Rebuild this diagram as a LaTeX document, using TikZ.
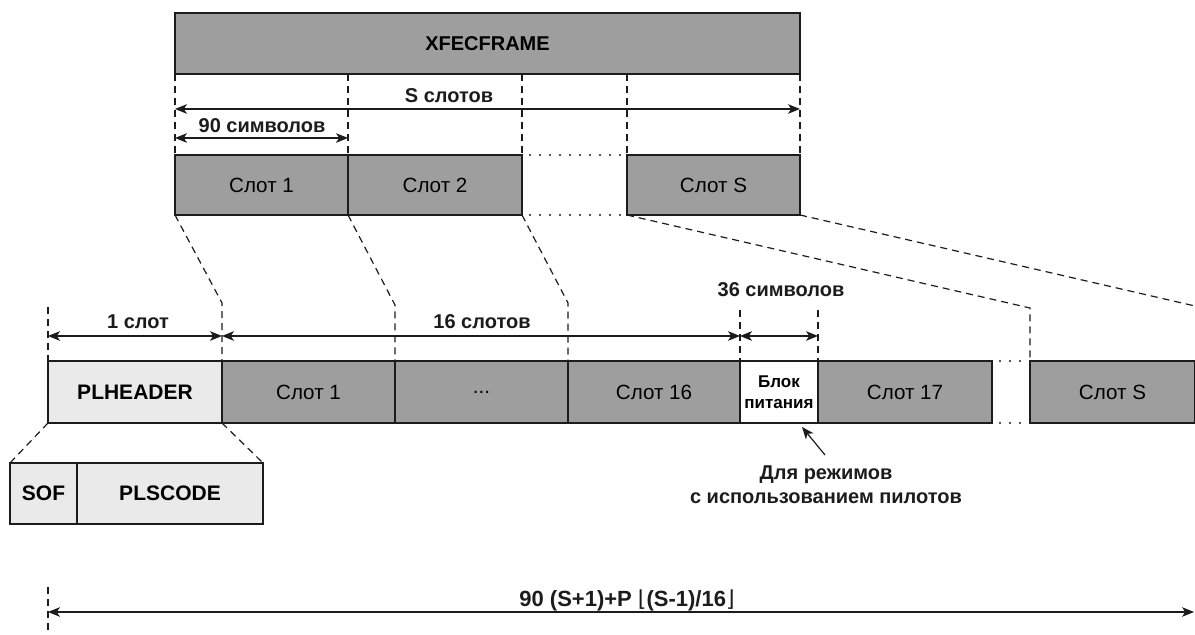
\documentclass[tikz,border=0pt]{standalone}
\usepackage{fontspec}
\setmainfont{Liberation Sans}
\newfontfamily\djv{DejaVu Sans}
\usetikzlibrary{arrows.meta}
\definecolor{slotgray}{RGB}{158,158,158}
\definecolor{lightfill}{RGB}{234,234,234}
\definecolor{ink}{RGB}{28,28,28}
\begin{document}
\begin{tikzpicture}[x=0.5pt,y=-0.5pt,
  box/.style={draw=ink, line width=0.8pt, fill=slotgray, inner sep=0pt, outer sep=0pt,
    anchor=north west, font=\fontsize{10.3}{12}\selectfont, text=black},
  wbox/.style={box, fill=lightfill, font=\bfseries\fontsize{10.5}{12}\selectfont},
  dashline/.style={draw=ink, line width=0.6pt, dash pattern=on 3.5pt off 2.5pt},
  dotline/.style={draw=ink, line width=1.1pt, line cap=round, dash pattern=on 0pt off 5pt},
  dim/.style={draw=ink, line width=0.6pt,
    {Stealth[length=6pt,width=4.8pt,inset=1.6pt]}-{Stealth[length=6pt,width=4.8pt,inset=1.6pt]}},
  ptr/.style={draw=ink, line width=0.6pt, -{Stealth[length=6pt,width=4.8pt,inset=1.6pt]}},
  lbl/.style={font=\bfseries\fontsize{10}{12}\selectfont, text=ink, inner sep=0pt},
]
\useasboundingbox (0,0) rectangle (1195,635);

% ---------- top frame ----------
\node[box, minimum width=312.5pt, minimum height=30.5pt, font=\bfseries\fontsize{10}{12}\selectfont] (xfec) at (175,13) {XFECFRAME};
\node[box, minimum width=86.5pt, minimum height=30pt] (t1) at (175,155) {Слот 1};
\node[box, minimum width=87pt, minimum height=30pt] (t2) at (348,155) {Слот 2};
\node[box, minimum width=86.5pt, minimum height=30pt] (tS) at (627,155) {Слот S};

\draw[dashline] (xfec.south west) -- (t1.north west);
\draw[dashline] (t2.north west |- xfec.south) -- (t2.north west);
\draw[dashline] (t2.north east |- xfec.south) -- (t2.north east);
\draw[dashline] (tS.north west |- xfec.south) -- (tS.north west);
\draw[dashline] (xfec.south east) -- (tS.north east);

\coordinate (sA) at (175,109); \coordinate (sB) at (800,109);
\draw[dim] (sA) -- (sB);
\node[lbl] (sL) at (449,96) {S слотов};
\coordinate (nA) at (175,138); \coordinate (nB) at (348,138);
\draw[dim] (nA) -- (nB);
\node[lbl] (nL) at (262,126) {90 символов};

\draw[dotline] ([xshift=4pt]t2.north east) -- ([xshift=-3pt]tS.north west);
\draw[dotline] ([xshift=4pt]t2.south east) -- ([xshift=-3pt]tS.south west);

% ---------- bottom frame ----------
\node[wbox, minimum width=87pt, minimum height=31pt] (plh) at (48,361) {PLHEADER};
\node[box, minimum width=86.5pt, minimum height=31pt] (b1) at (222,361) {Слот 1};
\node[box, minimum width=86.5pt, minimum height=31pt] (b2) at (395,361) {...};
\node[box, minimum width=86pt, minimum height=31pt] (b16) at (568,361) {Слот 16};
\node[box, fill=white, minimum width=39pt, minimum height=31pt, align=center,
  font=\bfseries\fontsize{8.5}{10.5}\selectfont] (pil) at (740,361) {Блок\\питания};
\node[box, minimum width=87pt, minimum height=31pt] (b17) at (818,361) {Слот 17};
\node[box, minimum width=82.5pt, minimum height=31pt] (bS) at (1030,361) {Слот S};

\draw[dotline] ([xshift=4pt]b17.north east) -- ([xshift=-4pt]bS.north west);
\draw[dotline] ([xshift=4pt]b17.south east) -- ([xshift=-4pt]bS.south west);

% slanted connectors
\coordinate (k1) at (222,303);
\coordinate (k2) at (395,305);
\coordinate (k3) at (568,303);
\coordinate (k4) at (1030,308);
\coordinate (k5) at (1195,306);
\draw[dashline] (t1.south west) -- (k1) -- (b1.north west);
\draw[dashline] (t2.south west) -- (k2) -- (b2.north west);
\draw[dashline] (t2.south east) -- (k3) -- (b16.north west);
\draw[dashline] (tS.south west) -- (k4) -- (bS.north west);
\draw[dashline] (tS.south east) -- (k5);

% bottom dimensions
\coordinate (d0) at (48,307);
\coordinate (d1) at (740,310);
\coordinate (d2) at (818,310);
\draw[dashline] (d0) -- (plh.north west);
\draw[dashline] (d1) -- (pil.north west);
\draw[dashline] (d2) -- (pil.north east);
\coordinate (e0) at (48,336); \coordinate (e1) at (222,336);
\coordinate (e2) at (740,336); \coordinate (e3) at (818,336);
\draw[dim] (e0) -- (e1);
\draw[dim] (e1) -- (e2);
\draw[dim] (e2) -- (e3);
\node[lbl] (l1) at (138,322) {1 слот};
\node[lbl] (l16) at (482,322) {16 слотов};
\node[lbl] (l36) at (781,290) {36 символов};

% pilot note
\node[lbl, align=center] (note) at (826,485) {Для режимов\\с использованием пилотов};
\coordinate (nt) at (825,455);
\draw[ptr] (nt) -- ([xshift=-8pt,yshift=-2pt]pil.south east);

% SOF / PLSCODE
\node[wbox, minimum width=33.5pt, minimum height=30.5pt] (sof) at (10,463) {SOF};
\node[wbox, minimum width=93pt, minimum height=30.5pt] (plsc) at (77,463) {PLSCODE};
\draw[dashline] (plh.south west) -- (sof.north west);
\draw[dashline] (plh.south east) -- (plsc.north east);

% total length
\coordinate (f0) at (48,587); \coordinate (f1) at (48,635);
\draw[dashline] (f0) -- (f1);
\coordinate (g0) at (48,612); \coordinate (g1) at (1194,612);
\draw[dim] (g0) -- (g1);
\node[lbl, font=\bfseries\fontsize{11}{13}\selectfont] (tot) at (627,600) {90 (S+1)+P {\djv\mdseries ⌊}(S-1)/16{\djv\mdseries ⌋}};
\end{tikzpicture}
\end{document}
